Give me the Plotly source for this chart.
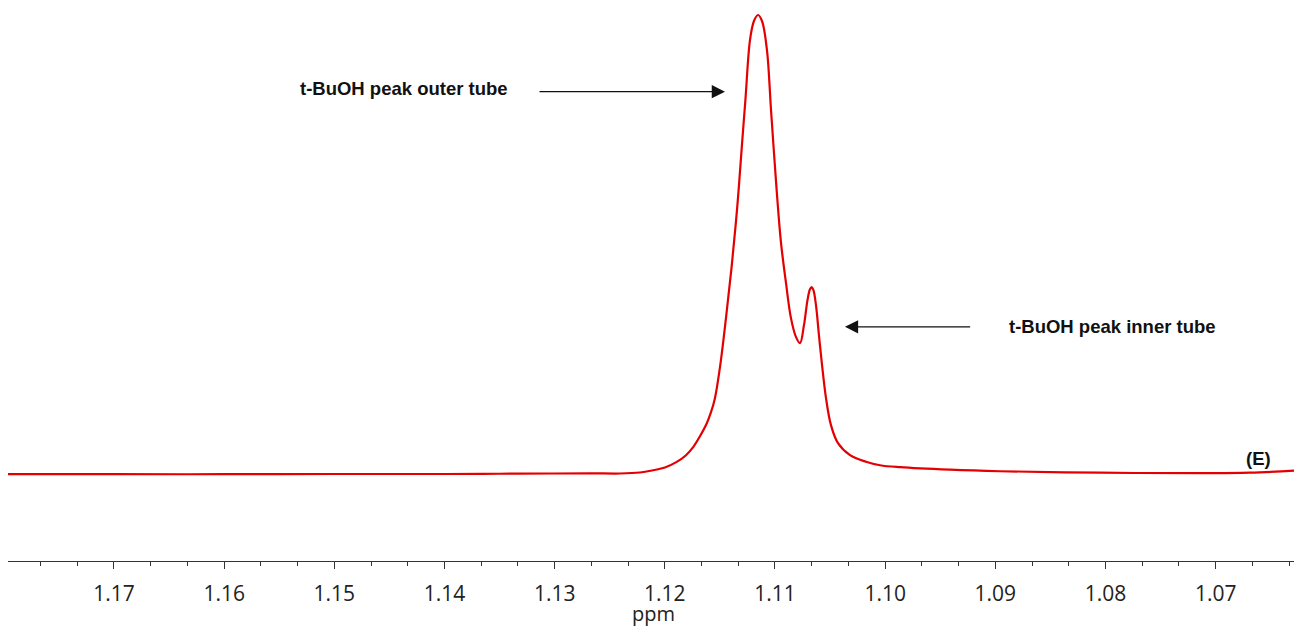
import plotly.graph_objects as go

# 1H NMR spectrum, t-BuOH methyl region (chemical shift in ppm, relative intensity in %)
ppm = [
    1.17962, 1.17000, 1.16000, 1.15000, 1.14000, 1.13500, 1.13010, 1.12680,
    1.12407, 1.12226, 1.12105, 1.11999, 1.11892, 1.11808, 1.11741, 1.11681,
    1.11620, 1.11581, 1.11545, 1.11499, 1.11445, 1.11393, 1.11342, 1.11300,
    1.11268, 1.11227, 1.11191, 1.11154, 1.11118, 1.11073, 1.11036, 1.10985,
    1.10946, 1.10900, 1.10855, 1.10809, 1.10773, 1.10737, 1.10705, 1.10682,
    1.10667, 1.10651, 1.10628, 1.10601, 1.10573, 1.10537, 1.10492, 1.10428,
    1.10319, 1.10174, 1.10047, 1.09865, 1.09412, 1.08958, 1.08050, 1.07142,
    1.06689, 1.06289,
]
intensity = [
    0.00, 0.00, 0.00, 0.05, 0.05, 0.10, 0.15, 0.20,
    0.15, 0.37, 0.87, 1.46, 2.68, 4.14, 5.95, 8.28,
    11.05, 13.51, 16.56, 23.38, 33.99, 45.32, 58.39, 71.68,
    81.70, 94.55, 98.69, 100.00, 98.69, 92.37, 79.30, 61.87,
    50.54, 41.61, 33.99, 29.85, 28.54, 32.46, 37.91, 40.31,
    40.74, 40.09, 36.82, 30.28, 23.75, 16.56, 10.68, 6.75,
    4.14, 2.72, 1.96, 1.53, 0.98, 0.65, 0.33, 0.22,
    0.33, 0.76,
]

# Peak labels: text, text position, arrow tip, arrow tail
labels = ["t-BuOH peak outer tube", "t-BuOH peak inner tube"]
label_pos = [(1.14372, 84.1), (1.07932, 32.2)]
arrow_tip = [(1.11454, 83.3), (1.10365, 32.1)]
arrow_tail = [(1.13151, 83.3), (1.09215, 32.1)]
sample_tag = "(E)"
sample_tag_pos = (1.06607, 3.4)
axis_title = "ppm"

fig = go.Figure()
fig.add_trace(go.Scatter(
    x=ppm, y=intensity, mode="lines",
    line=dict(color="rgb(228,0,0)", width=2.2, shape="spline", smoothing=1.0),
    hoverinfo="skip", showlegend=False,
))

bold_font = dict(family="Liberation Sans, Arial, sans-serif", size=18.5, color="#111111")

for text, (tx, ty) in zip(labels, label_pos):
    fig.add_annotation(x=tx, y=ty, xref="x", yref="y", text=f"<b>{text}</b>",
                       showarrow=False, font=bold_font)

for (hx, hy), (sx, sy) in zip(arrow_tip, arrow_tail):
    fig.add_annotation(x=hx, y=hy, ax=sx, ay=sy, xref="x", yref="y",
                       axref="x", ayref="y", text="", showarrow=True,
                       arrowhead=2, arrowsize=2.2, arrowwidth=1.2,
                       arrowcolor="#111111", standoff=0)

fig.add_annotation(x=sample_tag_pos[0], y=sample_tag_pos[1], xref="x", yref="y",
                   text=f"<b>{sample_tag}</b>", showarrow=False, font=bold_font)

# axis caption placed just under the tick labels
fig.add_annotation(x=0.5023, y=-0.093, xref="paper", yref="paper",
                   text=axis_title, showarrow=False, yanchor="middle", borderpad=0,
                   font=dict(family="Open Sans, sans-serif", size=20, color="#222222"))

fig.update_xaxes(
    range=[1.17962, 1.06289],
    tickmode="linear", tick0=1.0, dtick=0.01, tickformat=".2f",
    showline=True, linecolor="#333333", linewidth=1.3,
    ticks="outside", ticklen=7, tickwidth=1.2, tickcolor="#333333",
    minor=dict(dtick=0.01 / 3, tick0=1.0, ticks="outside", ticklen=4,
               tickwidth=1, tickcolor="#333333", showgrid=False),
    showgrid=False, zeroline=False, automargin=False,
    tickfont=dict(family="Open Sans, sans-serif", size=21, color="#222222"),
    ticklabelstandoff=7,
)
fig.update_yaxes(visible=False, range=[-18.9, 103.27], showgrid=False, zeroline=False)

fig.update_layout(
    width=1294, height=627,
    margin=dict(l=8, r=0, t=0, b=66),
    paper_bgcolor="white", plot_bgcolor="white",
)

fig.write_html("out.html")
